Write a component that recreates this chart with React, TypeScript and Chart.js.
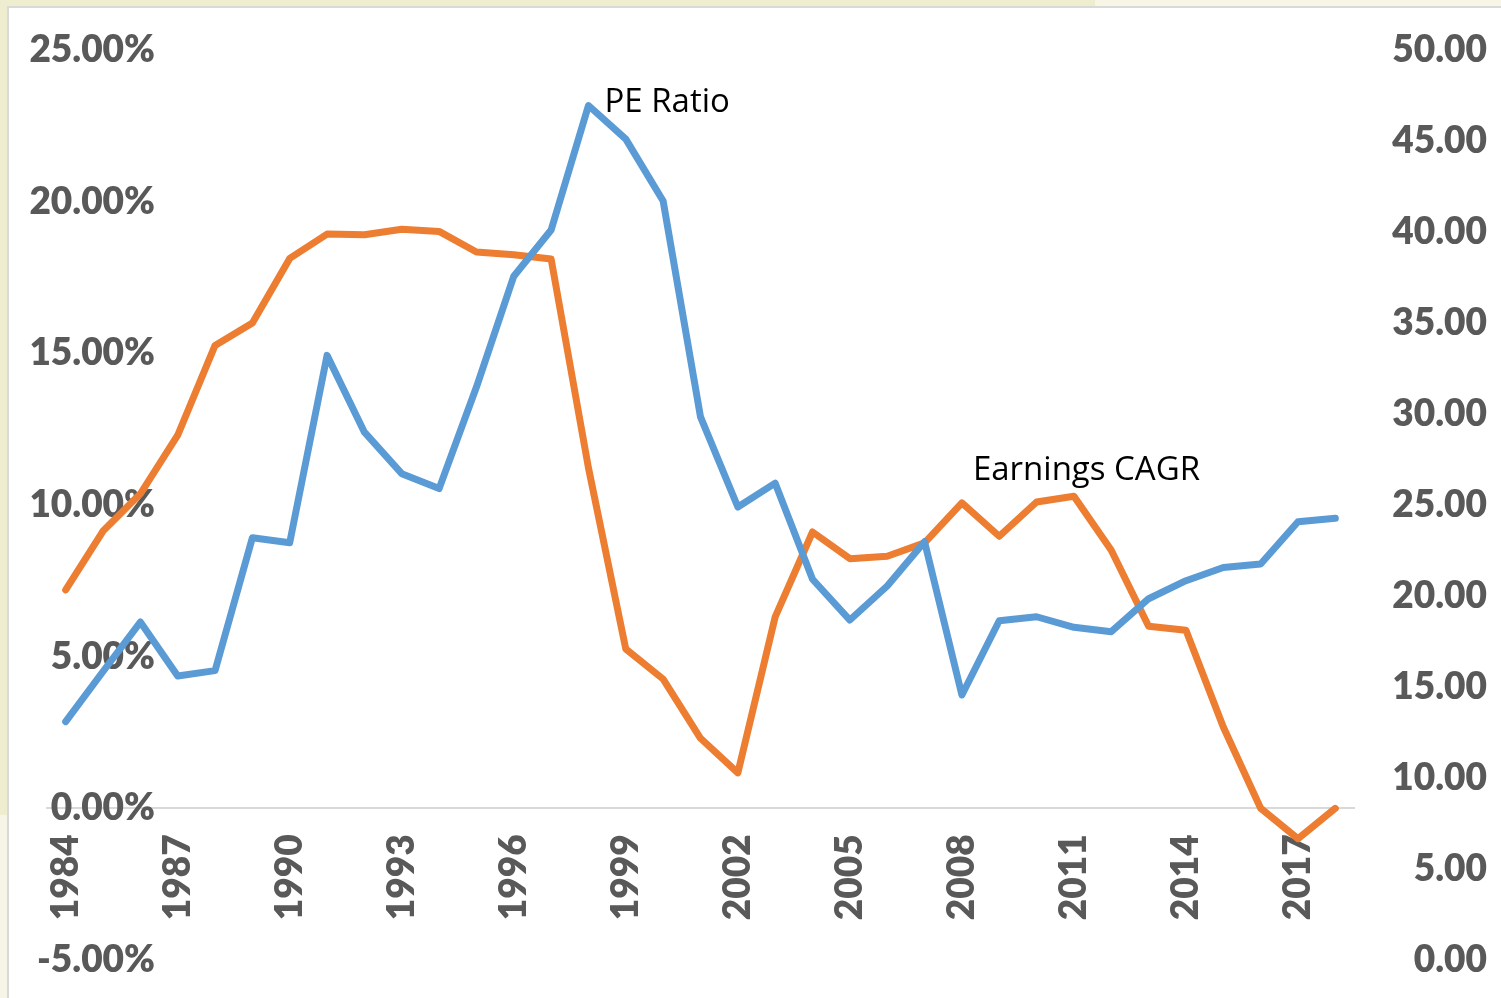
import React, { useEffect, useRef } from 'react';
import { Chart, registerables } from 'chart.js';

Chart.register(...registerables);

const years = [
  '1984', '1985', '1986', '1987', '1988', '1989', '1990', '1991', '1992', '1993',
  '1994', '1995', '1996', '1997', '1998', '1999', '2000', '2001', '2002', '2003',
  '2004', '2005', '2006', '2007', '2008', '2009', '2010', '2011', '2012', '2013',
  '2014', '2015', '2016', '2017', '2018',
];

// PE Ratio (right axis)
const peRatio = [
  13.1, 15.85, 18.57, 15.6, 15.9, 23.2, 22.93, 33.22, 29.0, 26.72,
  25.9, 31.48, 37.57, 40.11, 46.95, 45.1, 41.7, 29.84, 24.89, 26.2,
  20.92, 18.68, 20.55, 22.98, 14.56, 18.64, 18.86, 18.28, 18.04, 19.85,
  20.84, 21.57, 21.76, 24.08, 24.27,
];

// Earnings CAGR in percent (left axis)
const earningsCagr = [
  7.2, 9.14, 10.37, 12.3, 15.26, 16.0, 18.13, 18.93, 18.91, 19.09,
  19.02, 18.34, 18.25, 18.11, 11.22, 5.25, 4.26, 2.31, 1.17, 6.31,
  9.11, 8.23, 8.31, 8.75, 10.07, 8.97, 10.1, 10.29, 8.51, 6.0,
  5.87, 2.68, 0.0, -1.0, 0.0,
];

const leftMin = -5;
const leftMax = 25;
const leftStep = 5;
const rightMin = 0;
const rightMax = 50;
const rightStep = 5;
const xLabelEvery = 3;

const peLabel = 'PE Ratio';
const earningsLabel = 'Earnings CAGR';
const peLabelYear = '1998';
const earningsLabelYear = '2008';

const tickFont = { family: 'Lato', size: 37, weight: 800 as any };
const tickColor = '#595959';

const fmtLeft = (v: number) => v.toFixed(2) + '%';
const fmtRight = (v: number) => v.toFixed(2);

const seriesLabelPlugin = {
  id: 'seriesLabels',
  afterDatasetsDraw(chart: any) {
    const { ctx, scales } = chart;
    const xs = scales.x;
    const yl = scales.y;
    const yr = scales.y1;
    ctx.save();
    ctx.font = '33px "Open Sans"';
    ctx.fillStyle = '#000000';
    ctx.textAlign = 'left';
    ctx.textBaseline = 'alphabetic';
    const i1 = years.indexOf(peLabelYear);
    ctx.fillText(peLabel, xs.getPixelForValue(i1) + 16, yr.getPixelForValue(peRatio[i1]) + 6);
    const i2 = years.indexOf(earningsLabelYear);
    ctx.fillText(earningsLabel, xs.getPixelForValue(i2) + 11, yl.getPixelForValue(earningsCagr[i2]) - 23);
    ctx.restore();
  },
};

export default function App() {
  const canvasRef = useRef<HTMLCanvasElement | null>(null);

  useEffect(() => {
    const canvas = canvasRef.current;
    if (!canvas) return;

    // measure widest left label so that mirrored labels end at a fixed offset from the plot's left edge
    const mctx = document.createElement('canvas').getContext('2d') as CanvasRenderingContext2D;
    mctx.font = `${tickFont.weight} ${tickFont.size}px ${tickFont.family}`;
    let widest = 0;
    for (let v = leftMin; v <= leftMax; v += leftStep) {
      widest = Math.max(widest, mctx.measureText(fmtLeft(v)).width);
    }
    const leftLabelPadding = 108 - widest;

    const chart = new Chart(canvas, {
      type: 'line',
      data: {
        labels: years,
        datasets: [
          {
            label: peLabel,
            data: peRatio,
            yAxisID: 'y1',
            borderColor: '#5B9BD5',
            backgroundColor: '#5B9BD5',
            borderWidth: 7,
            pointRadius: 0,
            pointHoverRadius: 0,
            tension: 0,
            borderJoinStyle: 'round',
            borderCapStyle: 'round',
            fill: false,
          },
          {
            label: earningsLabel,
            data: earningsCagr,
            yAxisID: 'y',
            borderColor: '#ED7D31',
            backgroundColor: '#ED7D31',
            borderWidth: 7,
            pointRadius: 0,
            pointHoverRadius: 0,
            tension: 0,
            borderJoinStyle: 'round',
            borderCapStyle: 'round',
            fill: false,
          },
        ],
      },
      options: {
        responsive: false,
        animation: false,
        devicePixelRatio: 1,
        layout: { padding: { left: 47, right: 14, top: 50, bottom: 38 } },
        plugins: {
          legend: { display: false },
          tooltip: { enabled: false },
        },
        events: [],
        scales: {
          x: {
            type: 'category',
            offset: true,
            position: { y: 0 } as any,
            grid: { display: false, drawTicks: false },
            border: { display: true, color: '#D9D9D9', width: 2 },
            ticks: {
              autoSkip: false,
              minRotation: 90,
              maxRotation: 90,
              padding: 26,
              color: tickColor,
              font: tickFont,
              callback: (_v: any, i: number) => (i % xLabelEvery === 0 ? years[i] : ''),
            },
          },
          y: {
            type: 'linear',
            position: 'left',
            min: leftMin,
            max: leftMax,
            grid: { display: false, drawTicks: false },
            border: { display: false },
            ticks: {
              stepSize: leftStep,
              autoSkip: false,
              mirror: true,
              padding: leftLabelPadding,
              crossAlign: 'far',
              color: tickColor,
              font: tickFont,
              callback: (v: any) => fmtLeft(Number(v)),
            },
            afterFit: (s: any) => {
              s.width = 0;
            },
          },
          y1: {
            type: 'linear',
            position: 'right',
            min: rightMin,
            max: rightMax,
            grid: { display: false, drawTicks: false },
            border: { display: false },
            ticks: {
              stepSize: rightStep,
              autoSkip: false,
              crossAlign: 'far',
              color: tickColor,
              font: tickFont,
              callback: (v: any) => fmtRight(Number(v)),
            },
            afterFit: (s: any) => {
              s.width = 133;
            },
          },
        },
      },
      plugins: [seriesLabelPlugin],
    });
    return () => chart.destroy();
  }, []);

  return (
    <div
      style={{
        position: 'fixed',
        left: 0,
        top: 0,
        width: 1501,
        height: 998,
        overflow: 'hidden',
        background: '#F6F5E6',
      }}
    >
      <div style={{ position: 'absolute', left: 0, top: 0, width: 1095, height: 8, background: '#EEEDCF' }} />
      <div style={{ position: 'absolute', left: 0, top: 0, width: 8, height: 815, background: '#EEEDCF' }} />
      <div
        style={{
          position: 'absolute',
          left: 7,
          top: 6,
          width: 1510,
          height: 1010,
          background: '#FFFFFF',
          borderLeft: '2px solid #D9D9D9',
          borderTop: '2px solid #D9D9D9',
        }}
      />
      <canvas
        ref={canvasRef}
        width={1501}
        height={998}
        style={{ position: 'absolute', left: 0, top: 0, width: 1501, height: 998 }}
      />
    </div>
  );
}
